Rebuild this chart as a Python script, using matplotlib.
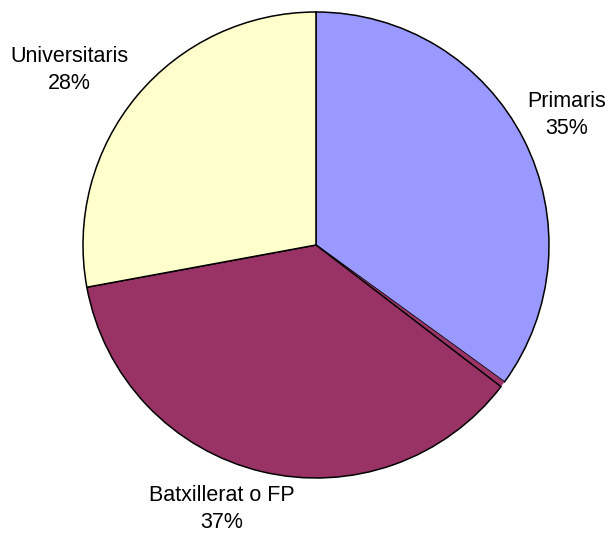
import matplotlib
matplotlib.use('Agg')
import matplotlib.pyplot as plt

matplotlib.rcParams['font.family'] = 'sans-serif'
matplotlib.rcParams['font.sans-serif'] = ['Liberation Sans']

# Data (clockwise from the top)
categories = ['Primaris', '', 'Batxillerat o FP', 'Universitaris']
shares = [35.0, 0.4, 36.7, 27.9]
pct_labels = ['35%', '', '37%', '28%']
colors = ['#9999FF', '#9B3568', '#993366', '#FFFFCC']

fig = plt.figure(figsize=(6.12, 5.36), dpi=100)
ax = fig.add_axes([0, 0, 1, 1])

wedges, _ = ax.pie(shares, colors=colors, startangle=90, counterclock=False,
                   center=(316, 291), radius=233, frame=True,
                   wedgeprops=dict(edgecolor='black', linewidth=1.1))
wedges[1].set_linewidth(0)
ax.set_xlim(0, 612)
ax.set_ylim(0, 536)
ax.axis('off')

# label positions (pixel coords, y flipped)
label_pos = [(567, 421), None, (222, 27), (69, 466)]
for name, pct, pos in zip(categories, pct_labels, label_pos):
    if pos is None:
        continue
    ax.text(pos[0], pos[1], name + '\n' + pct, ha='center', va='center',
            fontsize=15.5, linespacing=1.4)

fig.savefig('out.png', dpi=100)
